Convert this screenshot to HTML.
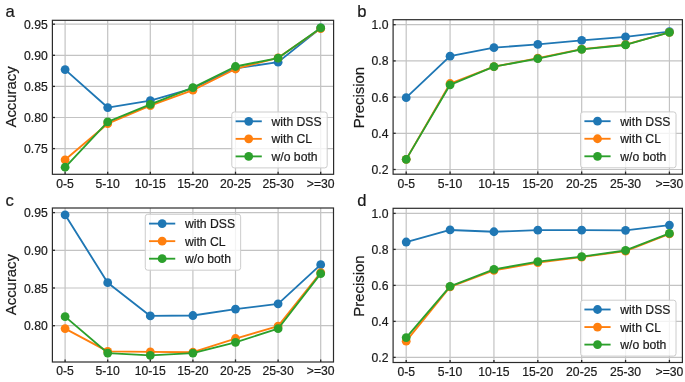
<!DOCTYPE html>
<html><head><meta charset="utf-8"><style>
html,body{margin:0;padding:0;background:#fff;}
body{width:685px;height:382px;overflow:hidden;}
svg{display:block;filter:blur(0.35px);}
text{font-family:"Liberation Sans", sans-serif;fill:#1a1a1a;stroke:#1a1a1a;stroke-width:0.2px;}
</style></head><body>
<svg width="685" height="382" viewBox="0 0 685 382">
<rect width="685" height="382" fill="#fff"/>
<clipPath id="clipa"><rect x="52.4" y="20.3" width="281.2" height="154"/></clipPath>
<line x1="65.1" y1="20.3" x2="65.1" y2="174.3" stroke="#c3c3c3" stroke-width="1.2"/>
<line x1="107.7" y1="20.3" x2="107.7" y2="174.3" stroke="#c3c3c3" stroke-width="1.2"/>
<line x1="150.3" y1="20.3" x2="150.3" y2="174.3" stroke="#c3c3c3" stroke-width="1.2"/>
<line x1="192.9" y1="20.3" x2="192.9" y2="174.3" stroke="#c3c3c3" stroke-width="1.2"/>
<line x1="235.5" y1="20.3" x2="235.5" y2="174.3" stroke="#c3c3c3" stroke-width="1.2"/>
<line x1="278.1" y1="20.3" x2="278.1" y2="174.3" stroke="#c3c3c3" stroke-width="1.2"/>
<line x1="320.7" y1="20.3" x2="320.7" y2="174.3" stroke="#c3c3c3" stroke-width="1.2"/>
<line x1="52.4" y1="148.6" x2="333.6" y2="148.6" stroke="#c3c3c3" stroke-width="1.2"/>
<line x1="52.4" y1="117.5" x2="333.6" y2="117.5" stroke="#c3c3c3" stroke-width="1.2"/>
<line x1="52.4" y1="86.4" x2="333.6" y2="86.4" stroke="#c3c3c3" stroke-width="1.2"/>
<line x1="52.4" y1="55.3" x2="333.6" y2="55.3" stroke="#c3c3c3" stroke-width="1.2"/>
<line x1="52.4" y1="24.2" x2="333.6" y2="24.2" stroke="#c3c3c3" stroke-width="1.2"/>
<g clip-path="url(#clipa)">
<path d="M65.1,69.61 L107.7,107.55 L150.3,100.71 L192.9,88.27 L235.5,68.36 L278.1,62.14 L320.7,27.93" fill="none" stroke="#1f77b4" stroke-width="1.85" stroke-linejoin="round" stroke-linecap="round"/>
<circle cx="65.1" cy="69.61" r="4.4" fill="#1f77b4"/>
<circle cx="107.7" cy="107.55" r="4.4" fill="#1f77b4"/>
<circle cx="150.3" cy="100.71" r="4.4" fill="#1f77b4"/>
<circle cx="192.9" cy="88.27" r="4.4" fill="#1f77b4"/>
<circle cx="235.5" cy="68.36" r="4.4" fill="#1f77b4"/>
<circle cx="278.1" cy="62.14" r="4.4" fill="#1f77b4"/>
<circle cx="320.7" cy="27.93" r="4.4" fill="#1f77b4"/>
<path d="M65.1,159.8 L107.7,123.72 L150.3,105.68 L192.9,90.13 L235.5,68.98 L278.1,57.79 L320.7,28.55" fill="none" stroke="#ff7f0e" stroke-width="1.85" stroke-linejoin="round" stroke-linecap="round"/>
<circle cx="65.1" cy="159.8" r="4.4" fill="#ff7f0e"/>
<circle cx="107.7" cy="123.72" r="4.4" fill="#ff7f0e"/>
<circle cx="150.3" cy="105.68" r="4.4" fill="#ff7f0e"/>
<circle cx="192.9" cy="90.13" r="4.4" fill="#ff7f0e"/>
<circle cx="235.5" cy="68.98" r="4.4" fill="#ff7f0e"/>
<circle cx="278.1" cy="57.79" r="4.4" fill="#ff7f0e"/>
<circle cx="320.7" cy="28.55" r="4.4" fill="#ff7f0e"/>
<path d="M65.1,167.26 L107.7,121.85 L150.3,104.44 L192.9,87.64 L235.5,66.5 L278.1,58.1 L320.7,27.93" fill="none" stroke="#2ca02c" stroke-width="1.85" stroke-linejoin="round" stroke-linecap="round"/>
<circle cx="65.1" cy="167.26" r="4.4" fill="#2ca02c"/>
<circle cx="107.7" cy="121.85" r="4.4" fill="#2ca02c"/>
<circle cx="150.3" cy="104.44" r="4.4" fill="#2ca02c"/>
<circle cx="192.9" cy="87.64" r="4.4" fill="#2ca02c"/>
<circle cx="235.5" cy="66.5" r="4.4" fill="#2ca02c"/>
<circle cx="278.1" cy="58.1" r="4.4" fill="#2ca02c"/>
<circle cx="320.7" cy="27.93" r="4.4" fill="#2ca02c"/>
</g>
<line x1="65.1" y1="174.3" x2="65.1" y2="171.7" stroke="#2b2b2b" stroke-width="1.3"/>
<line x1="107.7" y1="174.3" x2="107.7" y2="171.7" stroke="#2b2b2b" stroke-width="1.3"/>
<line x1="150.3" y1="174.3" x2="150.3" y2="171.7" stroke="#2b2b2b" stroke-width="1.3"/>
<line x1="192.9" y1="174.3" x2="192.9" y2="171.7" stroke="#2b2b2b" stroke-width="1.3"/>
<line x1="235.5" y1="174.3" x2="235.5" y2="171.7" stroke="#2b2b2b" stroke-width="1.3"/>
<line x1="278.1" y1="174.3" x2="278.1" y2="171.7" stroke="#2b2b2b" stroke-width="1.3"/>
<line x1="320.7" y1="174.3" x2="320.7" y2="171.7" stroke="#2b2b2b" stroke-width="1.3"/>
<line x1="52.4" y1="148.6" x2="55" y2="148.6" stroke="#2b2b2b" stroke-width="1.3"/>
<line x1="52.4" y1="117.5" x2="55" y2="117.5" stroke="#2b2b2b" stroke-width="1.3"/>
<line x1="52.4" y1="86.4" x2="55" y2="86.4" stroke="#2b2b2b" stroke-width="1.3"/>
<line x1="52.4" y1="55.3" x2="55" y2="55.3" stroke="#2b2b2b" stroke-width="1.3"/>
<line x1="52.4" y1="24.2" x2="55" y2="24.2" stroke="#2b2b2b" stroke-width="1.3"/>
<rect x="52.4" y="20.3" width="281.2" height="154" fill="none" stroke="#2b2b2b" stroke-width="1.2"/>
<text x="65.1" y="187.7" text-anchor="middle" font-size="12.2">0-5</text>
<text x="107.7" y="187.7" text-anchor="middle" font-size="12.2">5-10</text>
<text x="150.3" y="187.7" text-anchor="middle" font-size="12.2">10-15</text>
<text x="192.9" y="187.7" text-anchor="middle" font-size="12.2">15-20</text>
<text x="235.5" y="187.7" text-anchor="middle" font-size="12.2">20-25</text>
<text x="278.1" y="187.7" text-anchor="middle" font-size="12.2">25-30</text>
<text x="320.7" y="187.7" text-anchor="middle" font-size="12.2">&gt;=30</text>
<text x="47.8" y="153.1" text-anchor="end" font-size="12.2">0.75</text>
<text x="47.8" y="122" text-anchor="end" font-size="12.2">0.80</text>
<text x="47.8" y="90.9" text-anchor="end" font-size="12.2">0.85</text>
<text x="47.8" y="59.8" text-anchor="end" font-size="12.2">0.90</text>
<text x="47.8" y="28.7" text-anchor="end" font-size="12.2">0.95</text>
<text transform="translate(15.9,96.9) rotate(-90)" x="0" y="0" text-anchor="middle" font-size="14.9">Accuracy</text>
<text x="5.5" y="16.5" font-size="16.6">a</text>
<rect x="231.8" y="112" width="95.4" height="55.9" rx="2.5" fill="#ffffff" fill-opacity="0.8" stroke="#cccccc" stroke-width="1"/>
<line x1="235.6" y1="121.3" x2="261.8" y2="121.3" stroke="#1f77b4" stroke-width="1.85"/>
<circle cx="248.7" cy="121.3" r="4.4" fill="#1f77b4"/>
<text x="271.5" y="125.9" font-size="12.2">with DSS</text>
<line x1="235.6" y1="138.85" x2="261.8" y2="138.85" stroke="#ff7f0e" stroke-width="1.85"/>
<circle cx="248.7" cy="138.85" r="4.4" fill="#ff7f0e"/>
<text x="271.5" y="143.45" font-size="12.2">with CL</text>
<line x1="235.6" y1="156.4" x2="261.8" y2="156.4" stroke="#2ca02c" stroke-width="1.85"/>
<circle cx="248.7" cy="156.4" r="4.4" fill="#2ca02c"/>
<text x="271.5" y="161" font-size="12.2">w/o both</text>
<clipPath id="clipb"><rect x="393.1" y="19.7" width="289.3" height="154.5"/></clipPath>
<line x1="406.2" y1="19.7" x2="406.2" y2="174.2" stroke="#c3c3c3" stroke-width="1.2"/>
<line x1="450.07" y1="19.7" x2="450.07" y2="174.2" stroke="#c3c3c3" stroke-width="1.2"/>
<line x1="493.94" y1="19.7" x2="493.94" y2="174.2" stroke="#c3c3c3" stroke-width="1.2"/>
<line x1="537.81" y1="19.7" x2="537.81" y2="174.2" stroke="#c3c3c3" stroke-width="1.2"/>
<line x1="581.68" y1="19.7" x2="581.68" y2="174.2" stroke="#c3c3c3" stroke-width="1.2"/>
<line x1="625.55" y1="19.7" x2="625.55" y2="174.2" stroke="#c3c3c3" stroke-width="1.2"/>
<line x1="669.42" y1="19.7" x2="669.42" y2="174.2" stroke="#c3c3c3" stroke-width="1.2"/>
<line x1="393.1" y1="169.5" x2="682.4" y2="169.5" stroke="#c3c3c3" stroke-width="1.2"/>
<line x1="393.1" y1="133.3" x2="682.4" y2="133.3" stroke="#c3c3c3" stroke-width="1.2"/>
<line x1="393.1" y1="97.1" x2="682.4" y2="97.1" stroke="#c3c3c3" stroke-width="1.2"/>
<line x1="393.1" y1="60.9" x2="682.4" y2="60.9" stroke="#c3c3c3" stroke-width="1.2"/>
<line x1="393.1" y1="24.7" x2="682.4" y2="24.7" stroke="#c3c3c3" stroke-width="1.2"/>
<g clip-path="url(#clipb)">
<path d="M406.2,97.64 L450.07,56.19 L493.94,47.69 L537.81,44.43 L581.68,40.45 L625.55,36.83 L669.42,31.58" fill="none" stroke="#1f77b4" stroke-width="1.85" stroke-linejoin="round" stroke-linecap="round"/>
<circle cx="406.2" cy="97.64" r="4.4" fill="#1f77b4"/>
<circle cx="450.07" cy="56.19" r="4.4" fill="#1f77b4"/>
<circle cx="493.94" cy="47.69" r="4.4" fill="#1f77b4"/>
<circle cx="537.81" cy="44.43" r="4.4" fill="#1f77b4"/>
<circle cx="581.68" cy="40.45" r="4.4" fill="#1f77b4"/>
<circle cx="625.55" cy="36.83" r="4.4" fill="#1f77b4"/>
<circle cx="669.42" cy="31.58" r="4.4" fill="#1f77b4"/>
<path d="M406.2,159.36 L450.07,83.52 L493.94,66.69 L537.81,58.19 L581.68,49.14 L625.55,44.61 L669.42,32.3" fill="none" stroke="#ff7f0e" stroke-width="1.85" stroke-linejoin="round" stroke-linecap="round"/>
<circle cx="406.2" cy="159.36" r="4.4" fill="#ff7f0e"/>
<circle cx="450.07" cy="83.52" r="4.4" fill="#ff7f0e"/>
<circle cx="493.94" cy="66.69" r="4.4" fill="#ff7f0e"/>
<circle cx="537.81" cy="58.19" r="4.4" fill="#ff7f0e"/>
<circle cx="581.68" cy="49.14" r="4.4" fill="#ff7f0e"/>
<circle cx="625.55" cy="44.61" r="4.4" fill="#ff7f0e"/>
<circle cx="669.42" cy="32.3" r="4.4" fill="#ff7f0e"/>
<path d="M406.2,159.36 L450.07,84.79 L493.94,66.69 L537.81,58.55 L581.68,49.32 L625.55,44.97 L669.42,32.3" fill="none" stroke="#2ca02c" stroke-width="1.85" stroke-linejoin="round" stroke-linecap="round"/>
<circle cx="406.2" cy="159.36" r="4.4" fill="#2ca02c"/>
<circle cx="450.07" cy="84.79" r="4.4" fill="#2ca02c"/>
<circle cx="493.94" cy="66.69" r="4.4" fill="#2ca02c"/>
<circle cx="537.81" cy="58.55" r="4.4" fill="#2ca02c"/>
<circle cx="581.68" cy="49.32" r="4.4" fill="#2ca02c"/>
<circle cx="625.55" cy="44.97" r="4.4" fill="#2ca02c"/>
<circle cx="669.42" cy="32.3" r="4.4" fill="#2ca02c"/>
</g>
<line x1="406.2" y1="174.2" x2="406.2" y2="171.6" stroke="#2b2b2b" stroke-width="1.3"/>
<line x1="450.07" y1="174.2" x2="450.07" y2="171.6" stroke="#2b2b2b" stroke-width="1.3"/>
<line x1="493.94" y1="174.2" x2="493.94" y2="171.6" stroke="#2b2b2b" stroke-width="1.3"/>
<line x1="537.81" y1="174.2" x2="537.81" y2="171.6" stroke="#2b2b2b" stroke-width="1.3"/>
<line x1="581.68" y1="174.2" x2="581.68" y2="171.6" stroke="#2b2b2b" stroke-width="1.3"/>
<line x1="625.55" y1="174.2" x2="625.55" y2="171.6" stroke="#2b2b2b" stroke-width="1.3"/>
<line x1="669.42" y1="174.2" x2="669.42" y2="171.6" stroke="#2b2b2b" stroke-width="1.3"/>
<line x1="393.1" y1="169.5" x2="395.7" y2="169.5" stroke="#2b2b2b" stroke-width="1.3"/>
<line x1="393.1" y1="133.3" x2="395.7" y2="133.3" stroke="#2b2b2b" stroke-width="1.3"/>
<line x1="393.1" y1="97.1" x2="395.7" y2="97.1" stroke="#2b2b2b" stroke-width="1.3"/>
<line x1="393.1" y1="60.9" x2="395.7" y2="60.9" stroke="#2b2b2b" stroke-width="1.3"/>
<line x1="393.1" y1="24.7" x2="395.7" y2="24.7" stroke="#2b2b2b" stroke-width="1.3"/>
<rect x="393.1" y="19.7" width="289.3" height="154.5" fill="none" stroke="#2b2b2b" stroke-width="1.2"/>
<text x="406.2" y="187.6" text-anchor="middle" font-size="12.2">0-5</text>
<text x="450.07" y="187.6" text-anchor="middle" font-size="12.2">5-10</text>
<text x="493.94" y="187.6" text-anchor="middle" font-size="12.2">10-15</text>
<text x="537.81" y="187.6" text-anchor="middle" font-size="12.2">15-20</text>
<text x="581.68" y="187.6" text-anchor="middle" font-size="12.2">20-25</text>
<text x="625.55" y="187.6" text-anchor="middle" font-size="12.2">25-30</text>
<text x="669.42" y="187.6" text-anchor="middle" font-size="12.2">&gt;=30</text>
<text x="388.5" y="174" text-anchor="end" font-size="12.2">0.2</text>
<text x="388.5" y="137.8" text-anchor="end" font-size="12.2">0.4</text>
<text x="388.5" y="101.6" text-anchor="end" font-size="12.2">0.6</text>
<text x="388.5" y="65.4" text-anchor="end" font-size="12.2">0.8</text>
<text x="388.5" y="29.2" text-anchor="end" font-size="12.2">1.0</text>
<text transform="translate(364,97.55) rotate(-90)" x="0" y="0" text-anchor="middle" font-size="14.9">Precision</text>
<text x="357.2" y="16.5" font-size="16.6">b</text>
<rect x="580.6" y="111.9" width="95.4" height="55.9" rx="2.5" fill="#ffffff" fill-opacity="0.8" stroke="#cccccc" stroke-width="1"/>
<line x1="584.4" y1="121.2" x2="610.6" y2="121.2" stroke="#1f77b4" stroke-width="1.85"/>
<circle cx="597.5" cy="121.2" r="4.4" fill="#1f77b4"/>
<text x="620.3" y="125.8" font-size="12.2">with DSS</text>
<line x1="584.4" y1="138.75" x2="610.6" y2="138.75" stroke="#ff7f0e" stroke-width="1.85"/>
<circle cx="597.5" cy="138.75" r="4.4" fill="#ff7f0e"/>
<text x="620.3" y="143.35" font-size="12.2">with CL</text>
<line x1="584.4" y1="156.3" x2="610.6" y2="156.3" stroke="#2ca02c" stroke-width="1.85"/>
<circle cx="597.5" cy="156.3" r="4.4" fill="#2ca02c"/>
<text x="620.3" y="160.9" font-size="12.2">w/o both</text>
<clipPath id="clipc"><rect x="52.4" y="208" width="281.1" height="154"/></clipPath>
<line x1="65.1" y1="208" x2="65.1" y2="362" stroke="#c3c3c3" stroke-width="1.2"/>
<line x1="107.7" y1="208" x2="107.7" y2="362" stroke="#c3c3c3" stroke-width="1.2"/>
<line x1="150.3" y1="208" x2="150.3" y2="362" stroke="#c3c3c3" stroke-width="1.2"/>
<line x1="192.9" y1="208" x2="192.9" y2="362" stroke="#c3c3c3" stroke-width="1.2"/>
<line x1="235.5" y1="208" x2="235.5" y2="362" stroke="#c3c3c3" stroke-width="1.2"/>
<line x1="278.1" y1="208" x2="278.1" y2="362" stroke="#c3c3c3" stroke-width="1.2"/>
<line x1="320.7" y1="208" x2="320.7" y2="362" stroke="#c3c3c3" stroke-width="1.2"/>
<line x1="52.4" y1="325.7" x2="333.5" y2="325.7" stroke="#c3c3c3" stroke-width="1.2"/>
<line x1="52.4" y1="288" x2="333.5" y2="288" stroke="#c3c3c3" stroke-width="1.2"/>
<line x1="52.4" y1="250.3" x2="333.5" y2="250.3" stroke="#c3c3c3" stroke-width="1.2"/>
<line x1="52.4" y1="212.6" x2="333.5" y2="212.6" stroke="#c3c3c3" stroke-width="1.2"/>
<g clip-path="url(#clipc)">
<path d="M65.1,214.86 L107.7,282.72 L150.3,315.9 L192.9,315.52 L235.5,309.11 L278.1,303.83 L320.7,264.63" fill="none" stroke="#1f77b4" stroke-width="1.85" stroke-linejoin="round" stroke-linecap="round"/>
<circle cx="65.1" cy="214.86" r="4.4" fill="#1f77b4"/>
<circle cx="107.7" cy="282.72" r="4.4" fill="#1f77b4"/>
<circle cx="150.3" cy="315.9" r="4.4" fill="#1f77b4"/>
<circle cx="192.9" cy="315.52" r="4.4" fill="#1f77b4"/>
<circle cx="235.5" cy="309.11" r="4.4" fill="#1f77b4"/>
<circle cx="278.1" cy="303.83" r="4.4" fill="#1f77b4"/>
<circle cx="320.7" cy="264.63" r="4.4" fill="#1f77b4"/>
<path d="M65.1,328.57 L107.7,351.34 L150.3,351.94 L192.9,352.24 L235.5,338.52 L278.1,326.08 L320.7,272.54" fill="none" stroke="#ff7f0e" stroke-width="1.85" stroke-linejoin="round" stroke-linecap="round"/>
<circle cx="65.1" cy="328.57" r="4.4" fill="#ff7f0e"/>
<circle cx="107.7" cy="351.34" r="4.4" fill="#ff7f0e"/>
<circle cx="150.3" cy="351.94" r="4.4" fill="#ff7f0e"/>
<circle cx="192.9" cy="352.24" r="4.4" fill="#ff7f0e"/>
<circle cx="235.5" cy="338.52" r="4.4" fill="#ff7f0e"/>
<circle cx="278.1" cy="326.08" r="4.4" fill="#ff7f0e"/>
<circle cx="320.7" cy="272.54" r="4.4" fill="#ff7f0e"/>
<path d="M65.1,316.65 L107.7,353.07 L150.3,355.33 L192.9,353.07 L235.5,342.29 L278.1,328.72 L320.7,273.67" fill="none" stroke="#2ca02c" stroke-width="1.85" stroke-linejoin="round" stroke-linecap="round"/>
<circle cx="65.1" cy="316.65" r="4.4" fill="#2ca02c"/>
<circle cx="107.7" cy="353.07" r="4.4" fill="#2ca02c"/>
<circle cx="150.3" cy="355.33" r="4.4" fill="#2ca02c"/>
<circle cx="192.9" cy="353.07" r="4.4" fill="#2ca02c"/>
<circle cx="235.5" cy="342.29" r="4.4" fill="#2ca02c"/>
<circle cx="278.1" cy="328.72" r="4.4" fill="#2ca02c"/>
<circle cx="320.7" cy="273.67" r="4.4" fill="#2ca02c"/>
</g>
<line x1="65.1" y1="362" x2="65.1" y2="359.4" stroke="#2b2b2b" stroke-width="1.3"/>
<line x1="107.7" y1="362" x2="107.7" y2="359.4" stroke="#2b2b2b" stroke-width="1.3"/>
<line x1="150.3" y1="362" x2="150.3" y2="359.4" stroke="#2b2b2b" stroke-width="1.3"/>
<line x1="192.9" y1="362" x2="192.9" y2="359.4" stroke="#2b2b2b" stroke-width="1.3"/>
<line x1="235.5" y1="362" x2="235.5" y2="359.4" stroke="#2b2b2b" stroke-width="1.3"/>
<line x1="278.1" y1="362" x2="278.1" y2="359.4" stroke="#2b2b2b" stroke-width="1.3"/>
<line x1="320.7" y1="362" x2="320.7" y2="359.4" stroke="#2b2b2b" stroke-width="1.3"/>
<line x1="52.4" y1="325.7" x2="55" y2="325.7" stroke="#2b2b2b" stroke-width="1.3"/>
<line x1="52.4" y1="288" x2="55" y2="288" stroke="#2b2b2b" stroke-width="1.3"/>
<line x1="52.4" y1="250.3" x2="55" y2="250.3" stroke="#2b2b2b" stroke-width="1.3"/>
<line x1="52.4" y1="212.6" x2="55" y2="212.6" stroke="#2b2b2b" stroke-width="1.3"/>
<rect x="52.4" y="208" width="281.1" height="154" fill="none" stroke="#2b2b2b" stroke-width="1.2"/>
<text x="65.1" y="375.4" text-anchor="middle" font-size="12.2">0-5</text>
<text x="107.7" y="375.4" text-anchor="middle" font-size="12.2">5-10</text>
<text x="150.3" y="375.4" text-anchor="middle" font-size="12.2">10-15</text>
<text x="192.9" y="375.4" text-anchor="middle" font-size="12.2">15-20</text>
<text x="235.5" y="375.4" text-anchor="middle" font-size="12.2">20-25</text>
<text x="278.1" y="375.4" text-anchor="middle" font-size="12.2">25-30</text>
<text x="320.7" y="375.4" text-anchor="middle" font-size="12.2">&gt;=30</text>
<text x="47.8" y="330.2" text-anchor="end" font-size="12.2">0.80</text>
<text x="47.8" y="292.5" text-anchor="end" font-size="12.2">0.85</text>
<text x="47.8" y="254.8" text-anchor="end" font-size="12.2">0.90</text>
<text x="47.8" y="217.1" text-anchor="end" font-size="12.2">0.95</text>
<text transform="translate(15.9,284.6) rotate(-90)" x="0" y="0" text-anchor="middle" font-size="14.9">Accuracy</text>
<text x="5.5" y="205.5" font-size="16.6">c</text>
<rect x="145.25" y="214.3" width="95.4" height="55.9" rx="2.5" fill="#ffffff" fill-opacity="0.8" stroke="#cccccc" stroke-width="1"/>
<line x1="149.05" y1="223.6" x2="175.25" y2="223.6" stroke="#1f77b4" stroke-width="1.85"/>
<circle cx="162.15" cy="223.6" r="4.4" fill="#1f77b4"/>
<text x="184.95" y="228.2" font-size="12.2">with DSS</text>
<line x1="149.05" y1="241.15" x2="175.25" y2="241.15" stroke="#ff7f0e" stroke-width="1.85"/>
<circle cx="162.15" cy="241.15" r="4.4" fill="#ff7f0e"/>
<text x="184.95" y="245.75" font-size="12.2">with CL</text>
<line x1="149.05" y1="258.7" x2="175.25" y2="258.7" stroke="#2ca02c" stroke-width="1.85"/>
<circle cx="162.15" cy="258.7" r="4.4" fill="#2ca02c"/>
<text x="184.95" y="263.3" font-size="12.2">w/o both</text>
<clipPath id="clipd"><rect x="393.1" y="208.3" width="289.3" height="154.2"/></clipPath>
<line x1="406.2" y1="208.3" x2="406.2" y2="362.5" stroke="#c3c3c3" stroke-width="1.2"/>
<line x1="450.07" y1="208.3" x2="450.07" y2="362.5" stroke="#c3c3c3" stroke-width="1.2"/>
<line x1="493.94" y1="208.3" x2="493.94" y2="362.5" stroke="#c3c3c3" stroke-width="1.2"/>
<line x1="537.81" y1="208.3" x2="537.81" y2="362.5" stroke="#c3c3c3" stroke-width="1.2"/>
<line x1="581.68" y1="208.3" x2="581.68" y2="362.5" stroke="#c3c3c3" stroke-width="1.2"/>
<line x1="625.55" y1="208.3" x2="625.55" y2="362.5" stroke="#c3c3c3" stroke-width="1.2"/>
<line x1="669.42" y1="208.3" x2="669.42" y2="362.5" stroke="#c3c3c3" stroke-width="1.2"/>
<line x1="393.1" y1="357.4" x2="682.4" y2="357.4" stroke="#c3c3c3" stroke-width="1.2"/>
<line x1="393.1" y1="321.4" x2="682.4" y2="321.4" stroke="#c3c3c3" stroke-width="1.2"/>
<line x1="393.1" y1="285.4" x2="682.4" y2="285.4" stroke="#c3c3c3" stroke-width="1.2"/>
<line x1="393.1" y1="249.4" x2="682.4" y2="249.4" stroke="#c3c3c3" stroke-width="1.2"/>
<line x1="393.1" y1="213.4" x2="682.4" y2="213.4" stroke="#c3c3c3" stroke-width="1.2"/>
<g clip-path="url(#clipd)">
<path d="M406.2,242.02 L450.07,229.96 L493.94,231.76 L537.81,230.14 L581.68,230.14 L625.55,230.32 L669.42,225.1" fill="none" stroke="#1f77b4" stroke-width="1.85" stroke-linejoin="round" stroke-linecap="round"/>
<circle cx="406.2" cy="242.02" r="4.4" fill="#1f77b4"/>
<circle cx="450.07" cy="229.96" r="4.4" fill="#1f77b4"/>
<circle cx="493.94" cy="231.76" r="4.4" fill="#1f77b4"/>
<circle cx="537.81" cy="230.14" r="4.4" fill="#1f77b4"/>
<circle cx="581.68" cy="230.14" r="4.4" fill="#1f77b4"/>
<circle cx="625.55" cy="230.32" r="4.4" fill="#1f77b4"/>
<circle cx="669.42" cy="225.1" r="4.4" fill="#1f77b4"/>
<path d="M406.2,341.2 L450.07,286.84 L493.94,270.46 L537.81,262.54 L581.68,257.14 L625.55,251.2 L669.42,233.92" fill="none" stroke="#ff7f0e" stroke-width="1.85" stroke-linejoin="round" stroke-linecap="round"/>
<circle cx="406.2" cy="341.2" r="4.4" fill="#ff7f0e"/>
<circle cx="450.07" cy="286.84" r="4.4" fill="#ff7f0e"/>
<circle cx="493.94" cy="270.46" r="4.4" fill="#ff7f0e"/>
<circle cx="537.81" cy="262.54" r="4.4" fill="#ff7f0e"/>
<circle cx="581.68" cy="257.14" r="4.4" fill="#ff7f0e"/>
<circle cx="625.55" cy="251.2" r="4.4" fill="#ff7f0e"/>
<circle cx="669.42" cy="233.92" r="4.4" fill="#ff7f0e"/>
<path d="M406.2,337.6 L450.07,286.3 L493.94,269.38 L537.81,261.64 L581.68,256.6 L625.55,250.48 L669.42,233.38" fill="none" stroke="#2ca02c" stroke-width="1.85" stroke-linejoin="round" stroke-linecap="round"/>
<circle cx="406.2" cy="337.6" r="4.4" fill="#2ca02c"/>
<circle cx="450.07" cy="286.3" r="4.4" fill="#2ca02c"/>
<circle cx="493.94" cy="269.38" r="4.4" fill="#2ca02c"/>
<circle cx="537.81" cy="261.64" r="4.4" fill="#2ca02c"/>
<circle cx="581.68" cy="256.6" r="4.4" fill="#2ca02c"/>
<circle cx="625.55" cy="250.48" r="4.4" fill="#2ca02c"/>
<circle cx="669.42" cy="233.38" r="4.4" fill="#2ca02c"/>
</g>
<line x1="406.2" y1="362.5" x2="406.2" y2="359.9" stroke="#2b2b2b" stroke-width="1.3"/>
<line x1="450.07" y1="362.5" x2="450.07" y2="359.9" stroke="#2b2b2b" stroke-width="1.3"/>
<line x1="493.94" y1="362.5" x2="493.94" y2="359.9" stroke="#2b2b2b" stroke-width="1.3"/>
<line x1="537.81" y1="362.5" x2="537.81" y2="359.9" stroke="#2b2b2b" stroke-width="1.3"/>
<line x1="581.68" y1="362.5" x2="581.68" y2="359.9" stroke="#2b2b2b" stroke-width="1.3"/>
<line x1="625.55" y1="362.5" x2="625.55" y2="359.9" stroke="#2b2b2b" stroke-width="1.3"/>
<line x1="669.42" y1="362.5" x2="669.42" y2="359.9" stroke="#2b2b2b" stroke-width="1.3"/>
<line x1="393.1" y1="357.4" x2="395.7" y2="357.4" stroke="#2b2b2b" stroke-width="1.3"/>
<line x1="393.1" y1="321.4" x2="395.7" y2="321.4" stroke="#2b2b2b" stroke-width="1.3"/>
<line x1="393.1" y1="285.4" x2="395.7" y2="285.4" stroke="#2b2b2b" stroke-width="1.3"/>
<line x1="393.1" y1="249.4" x2="395.7" y2="249.4" stroke="#2b2b2b" stroke-width="1.3"/>
<line x1="393.1" y1="213.4" x2="395.7" y2="213.4" stroke="#2b2b2b" stroke-width="1.3"/>
<rect x="393.1" y="208.3" width="289.3" height="154.2" fill="none" stroke="#2b2b2b" stroke-width="1.2"/>
<text x="406.2" y="375.9" text-anchor="middle" font-size="12.2">0-5</text>
<text x="450.07" y="375.9" text-anchor="middle" font-size="12.2">5-10</text>
<text x="493.94" y="375.9" text-anchor="middle" font-size="12.2">10-15</text>
<text x="537.81" y="375.9" text-anchor="middle" font-size="12.2">15-20</text>
<text x="581.68" y="375.9" text-anchor="middle" font-size="12.2">20-25</text>
<text x="625.55" y="375.9" text-anchor="middle" font-size="12.2">25-30</text>
<text x="669.42" y="375.9" text-anchor="middle" font-size="12.2">&gt;=30</text>
<text x="388.5" y="361.9" text-anchor="end" font-size="12.2">0.2</text>
<text x="388.5" y="325.9" text-anchor="end" font-size="12.2">0.4</text>
<text x="388.5" y="289.9" text-anchor="end" font-size="12.2">0.6</text>
<text x="388.5" y="253.9" text-anchor="end" font-size="12.2">0.8</text>
<text x="388.5" y="217.9" text-anchor="end" font-size="12.2">1.0</text>
<text transform="translate(364,286) rotate(-90)" x="0" y="0" text-anchor="middle" font-size="14.9">Precision</text>
<text x="357.2" y="205.5" font-size="16.6">d</text>
<rect x="580.6" y="300.2" width="95.4" height="55.9" rx="2.5" fill="#ffffff" fill-opacity="0.8" stroke="#cccccc" stroke-width="1"/>
<line x1="584.4" y1="309.5" x2="610.6" y2="309.5" stroke="#1f77b4" stroke-width="1.85"/>
<circle cx="597.5" cy="309.5" r="4.4" fill="#1f77b4"/>
<text x="620.3" y="314.1" font-size="12.2">with DSS</text>
<line x1="584.4" y1="327.05" x2="610.6" y2="327.05" stroke="#ff7f0e" stroke-width="1.85"/>
<circle cx="597.5" cy="327.05" r="4.4" fill="#ff7f0e"/>
<text x="620.3" y="331.65" font-size="12.2">with CL</text>
<line x1="584.4" y1="344.6" x2="610.6" y2="344.6" stroke="#2ca02c" stroke-width="1.85"/>
<circle cx="597.5" cy="344.6" r="4.4" fill="#2ca02c"/>
<text x="620.3" y="349.2" font-size="12.2">w/o both</text>
</svg>
</body></html>
